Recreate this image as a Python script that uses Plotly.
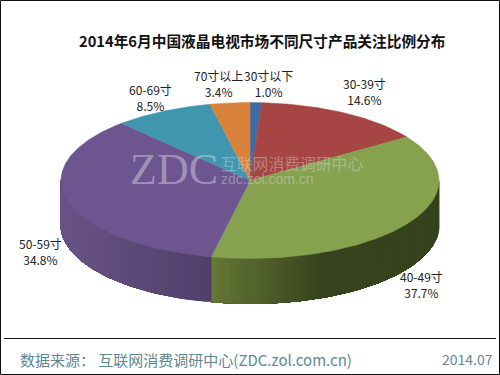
import math
import plotly.graph_objects as go

categories = ["30寸以下", "30-39寸", "40-49寸", "50-59寸", "60-69寸", "70寸以上"]
values = [1.0, 14.6, 37.7, 34.8, 8.5, 3.4]
title_text = "2014年6月中国液晶电视市场不同尺寸产品关注比例分布"
source_text = "数据来源： 互联网消费调研中心(ZDC.zol.com.cn)"
date_text = "2014.07"

top_colors = ["#3f6ca6", "#a64543", "#87a24f", "#6d5590", "#3f96ae", "#d9823b"]
label_xy = [(268, 83), (364, 91), (421, 284), (40, 251), (150, 97), (218, 83)]

CX, CY, RX, RY, DEPTH = 250, 180.5, 189, 78, 45
FONT = "Noto Sans CJK SC, Noto Sans, sans-serif"


def pt(deg, dy=0):
    a = math.radians(deg)
    return CX + RX * math.sin(a), CY - RY * math.cos(a) + dy


def lerp(c1, c2, t):
    t = max(0, min(1, t))
    return "rgb(%d,%d,%d)" % tuple(round(a + (b - a) * t) for a, b in zip(c1, c2))


def wall_color(name, x):
    if name == "50-59寸":
        return lerp((106, 84, 134), (80, 63, 106), (x - 61) / 150)
    return lerp((101, 120, 54), (55, 67, 29), (x - 211) / 110)


fig = go.Figure()

cum = [0]
for v in values:
    cum.append(cum[-1] + v)
angles = [c * 3.6 for c in cum]

# side wall: each band runs from its own angle to the end of the slice and is
# painted over by the next one, which leaves no seams between the shades
for i, name in enumerate(categories):
    lo, hi = max(angles[i], 90), min(angles[i + 1], 270)
    if hi <= lo:
        continue
    n = max(2, int((hi - lo) / 1.5))
    for k in range(n):
        a0 = lo + (hi - lo) * k / n
        steps = n - k
        arc = [a0 + (hi - a0) * j / steps for j in range(steps + 1)]
        upper = [pt(a) for a in arc]
        lower = [pt(a, DEPTH) for a in reversed(arc)]
        ring = upper + lower + [upper[0]]
        color = wall_color(name, pt(a0 + (hi - lo) / (2 * n))[0])
        fig.add_trace(go.Scatter(
            x=[p[0] for p in ring], y=[p[1] for p in ring],
            mode="lines", fill="toself", fillcolor=color,
            line=dict(width=0.5, color=color), hoverinfo="skip", showlegend=False))

# top face
for i, name in enumerate(categories):
    n = max(4, int(values[i] * 6))
    pts = [pt(angles[i] + (angles[i + 1] - angles[i]) * k / n) for k in range(n + 1)]
    xs = [CX] + [p[0] for p in pts] + [CX]
    ys = [CY] + [p[1] for p in pts] + [CY]
    fig.add_trace(go.Scatter(
        x=xs, y=ys, mode="lines", fill="toself", fillcolor=top_colors[i],
        line=dict(width=0.5, color=top_colors[i]), name=name,
        text=f"{name} {values[i]}%", hoverinfo="text", showlegend=False))

ann = []
for name, v, (x, y) in zip(categories, values, label_xy):
    ann.append(dict(x=x, y=y, text=f"{name}<br>{v:.1f}%", showarrow=False,
                    font=dict(family=FONT, size=12, color="#222222"), align="center"))
ann += [
    dict(x=262, y=40, text=f"<b>{title_text}</b>", showarrow=False,
         font=dict(family=FONT, size=14.7, color="#111111")),
    dict(x=18, y=359, xanchor="left", text=source_text, showarrow=False,
         font=dict(family=FONT, size=15, color="#5f8793")),
    dict(x=495, y=359, xanchor="right", text=date_text, showarrow=False,
         font=dict(family=FONT, size=14, color="#5f8793")),
    dict(x=174, y=169, text="ZDC", showarrow=False,
         font=dict(family="Liberation Serif", size=44, color="rgba(225,220,235,0.45)")),
    dict(x=219, y=163, xanchor="left", text="互联网消费调研中心", showarrow=False,
         font=dict(family=FONT, size=15.8, color="rgba(225,225,225,0.4)")),
    dict(x=219, y=179, xanchor="left", text="zdc.zol.com.cn", showarrow=False,
         font=dict(family="Liberation Sans", size=14, color="rgba(225,225,225,0.4)")),
]

fig.update_layout(
    width=500, height=375, margin=dict(l=0, r=0, t=0, b=0),
    paper_bgcolor="white", plot_bgcolor="white",
    xaxis=dict(range=[0, 500], visible=False, fixedrange=True),
    yaxis=dict(range=[375, 0], visible=False, fixedrange=True),
    annotations=ann,
    shapes=[
        dict(type="rect", x0=0.5, y0=0.5, x1=499.5, y1=374.5, line=dict(color="#111111", width=1)),
        dict(type="line", x0=4, x1=496, y0=338.5, y1=338.5, line=dict(color="#111111", width=1)),
    ],
)
fig.write_html("out.html", config={"displayModeBar": False},
               post_script="document.body.style.margin='0';document.body.style.overflow='hidden';")
